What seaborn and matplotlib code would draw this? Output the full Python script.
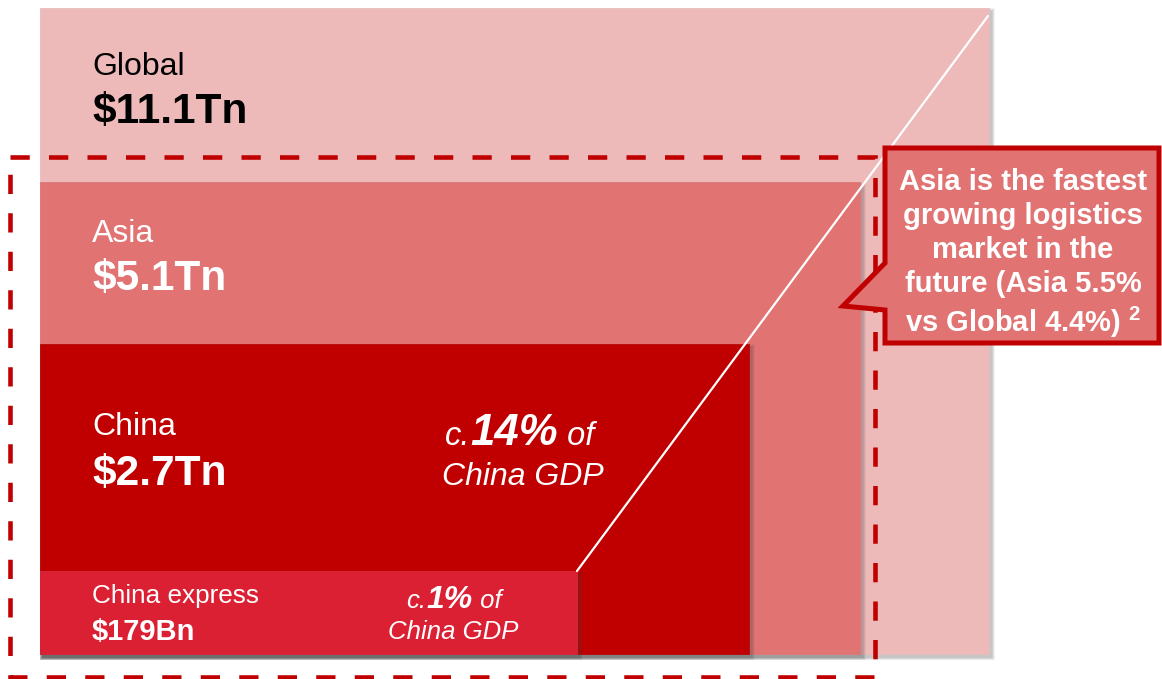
import matplotlib
matplotlib.use("Agg")
import matplotlib.pyplot as plt
import seaborn as sns
from matplotlib.patches import Rectangle, Polygon

# Logistics market size by region (nested boxes, bottom-left anchored)
regions = ["Global", "Asia", "China", "China express"]
value_labels = ["$11.1Tn", "$5.1Tn", "$2.7Tn", "$179Bn"]
box_widths = [949, 820, 709, 537]
box_heights = [646, 472, 310, 83]
gdp_share = ["", "", "14%", "1%"]
callout_lines = ["Asia is the fastest", "growing logistics", "market in the",
                 "future (Asia 5.5%", "vs Global 4.4%) $^{2}$"]

box_colors = ["#EDB9B9", "#E17373", "#C00000", "#DC2034"]
label_colors = ["black", "white", "white", "white"]

sns.set_theme(style="white")
plt.rcParams["font.family"] = ["Liberation Sans", "DejaVu Sans"]
plt.rcParams["mathtext.fontset"] = "custom"
plt.rcParams["mathtext.rm"] = "Liberation Sans:bold"
plt.rcParams["mathtext.bf"] = "Liberation Sans:bold"

W, H = 1162, 679
fig = plt.figure(figsize=(W / 100, H / 100), dpi=100)
ax = fig.add_axes([0, 0, 1, 1])
ax.set_xlim(0, W)
ax.set_ylim(H, 0)
ax.axis("off")

x0, base = 40, 654

for i, (w, h) in enumerate(zip(box_widths, box_heights)):
    top = base - h
    # soft drop shadow, offset down-right
    for k in range(1, 7):
        ax.bar(x0 + 2.5 - k * 0.5, h + k, width=w + k, bottom=top + 3 - k * 0.5,
               align="edge", color="#444444", alpha=0.055, linewidth=0, zorder=1 + i)
    ax.bar(x0, h, width=w, bottom=top, align="edge", color=box_colors[i],
           edgecolor=sns.desaturate(box_colors[i], 0.9), linewidth=0.6, zorder=1.5 + i)

renderer = fig.canvas.get_renderer()


def rich_line(xc, yb, pieces, color="white", z=10):
    texts, widths = [], []
    for s, kw in pieces:
        t = ax.text(0, yb, s, va="baseline", ha="left", color=color, zorder=z, **kw)
        texts.append(t)
        widths.append(t.get_window_extent(renderer=renderer).width)
    x = xc - sum(widths) / 2
    for t, wd in zip(texts, widths):
        t.set_x(x)
        x += wd


# region names and values
name_sizes = [23, 23, 23, 18.8]
value_sizes = [30.5, 30.5, 30.5, 21]
name_base = [75, 242, 435, 603]
value_base = [123, 290, 485, 640]
for i in range(len(regions)):
    ax.text(92, name_base[i], regions[i], fontsize=name_sizes[i], color=label_colors[i],
            va="baseline", ha="left", zorder=10)
    ax.text(92, value_base[i], value_labels[i], fontsize=value_sizes[i], fontweight="bold",
            color=label_colors[i], va="baseline", ha="left", zorder=10)

# share of GDP notes
rich_line(520, 445, [("c.", dict(fontsize=23.5, style="italic")),
                     (gdp_share[2], dict(fontsize=31.5, style="italic", fontweight="bold")),
                     (" of", dict(fontsize=23.5, style="italic"))])
rich_line(523, 485, [("China GDP", dict(fontsize=23, style="italic"))])
rich_line(454, 608, [("c.", dict(fontsize=18.5, style="italic")),
                     (gdp_share[3], dict(fontsize=23, style="italic", fontweight="bold")),
                     (" of", dict(fontsize=18.5, style="italic"))])
rich_line(453, 639, [("China GDP", dict(fontsize=18.5, style="italic"))])

# zoom guide line
ax.plot([x0 + box_widths[3], x0 + box_widths[0] - 1],
        [base - box_heights[3], 16], color="white", lw=1.6, zorder=8)

# dashed frame around Asia
ax.add_patch(Rectangle((10, 157), 865, 520, fill=False, edgecolor="#C00000",
                       lw=3.3, linestyle=(0, (4.2, 4.2)), zorder=9))

# callout
callout = Polygon([(885, 148), (1159, 148), (1159, 343), (885, 343), (885, 310),
                   (843, 306), (885, 263)], closed=True, facecolor="#E17373",
                  edgecolor="#C00000", lw=3.6, joinstyle="miter", zorder=11)
ax.add_patch(callout)
ax.text(1023, 254, "\n".join(callout_lines), fontsize=21, fontweight="bold", color="white",
        ha="center", va="center", multialignment="center", linespacing=1.27, zorder=12)

fig.savefig("out.png", dpi=100)
